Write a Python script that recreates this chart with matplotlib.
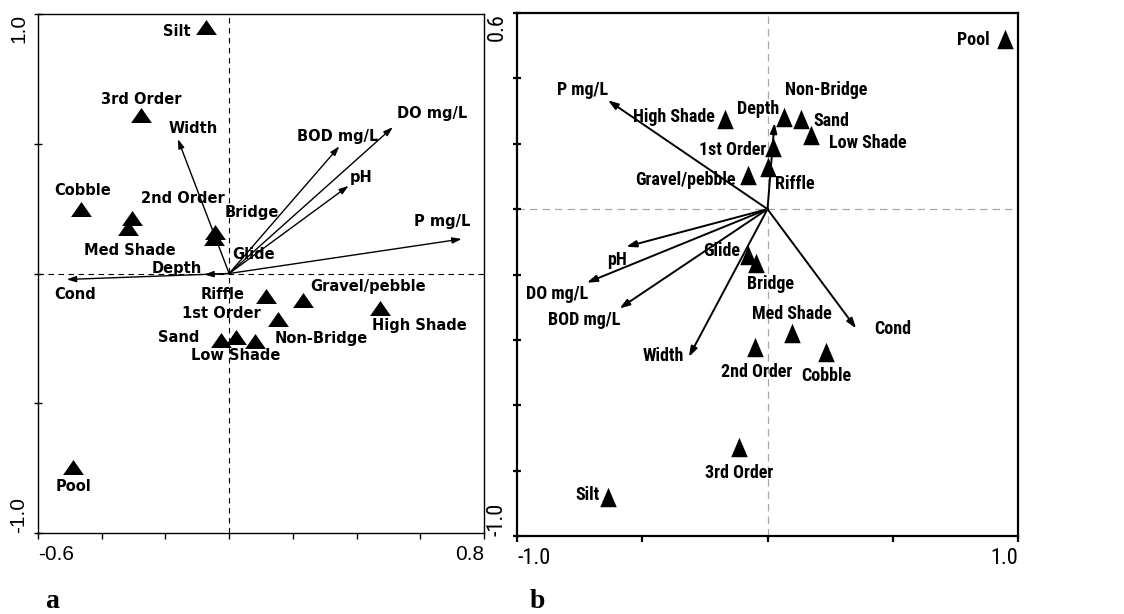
import matplotlib
matplotlib.use("Agg")
import matplotlib.pyplot as plt
from matplotlib import font_manager as fm

# ---------------- data: panel a ----------------
a_site_names = ["Silt", "3rd Order", "Cobble", "2nd Order", "Med Shade", "Bridge", "Glide",
                "Riffle", "Gravel/pebble", "High Shade", "1st Order", "Sand", "Low Shade",
                "Non-Bridge", "Pool"]
a_site_x = [-0.072, -0.277, -0.465, -0.305, -0.318, -0.043, -0.048,
            0.115, 0.231, 0.474, 0.152, -0.026, 0.022, 0.080, -0.490]
a_site_y = [0.950, 0.610, 0.250, 0.215, 0.177, 0.160, 0.138,
            -0.087, -0.103, -0.132, -0.174, -0.257, -0.244, -0.260, -0.747]
a_var_names = ["Width", "BOD mg/L", "DO mg/L", "pH", "P mg/L", "Depth", "Cond"]
a_var_x = [-0.161, 0.346, 0.514, 0.375, 0.730, -0.078, -0.510]
a_var_y = [0.518, 0.490, 0.564, 0.338, 0.133, -0.004, -0.023]

# ---------------- data: panel b ----------------
b_site_names = ["Pool", "High Shade", "Non-Bridge", "Sand", "Low Shade", "1st Order",
                "Gravel/pebble", "Riffle", "Glide", "Bridge", "Med Shade", "2nd Order",
                "Cobble", "3rd Order", "Silt"]
b_site_x = [0.950, -0.168, 0.065, 0.132, 0.174, 0.021, -0.079, 0.001, -0.079, -0.045,
            0.099, -0.048, 0.232, -0.112, -0.635]
b_site_y = [0.519, 0.277, 0.282, 0.277, 0.226, 0.190, 0.104, 0.129, -0.141, -0.166,
            -0.378, -0.421, -0.436, -0.727, -0.882]
b_var_names = ["P mg/L", "Depth", "pH", "DO mg/L", "BOD mg/L", "Width", "Cond"]
b_var_x = [-0.637, 0.028, -0.564, -0.721, -0.591, -0.314, 0.354]
b_var_y = [0.333, 0.264, -0.115, -0.225, -0.304, -0.452, -0.365]

a_xticks = [-0.6, -0.4, -0.2, 0.0, 0.2, 0.4, 0.6, 0.8]
a_xticklabels = ["-0.6", "", "", "", "", "", "", "0.8"]
a_yticks = [-1.0, -0.5, 0.0, 0.5, 1.0]
a_yticklabels = ["-1.0", "", "", "", "1.0"]
b_xticks = [-1.0, -0.5, 0.0, 0.5, 1.0]
b_xticklabels = ["-1.0", "", "", "", "1.0"]
b_yticks = [-1.0, -0.8, -0.6, -0.4, -0.2, 0.0, 0.2, 0.4, 0.6]
b_yticklabels = ["-1.0", "", "", "", "", "", "", "", "0.6"]

# ---------------- layout: label offsets (pixels) ----------------
a_site_off = {"Silt": (-29, -5), "3rd Order": (0, 16), "Cobble": (2, 18), "2nd Order": (51, 19),
              "Med Shade": (2, -23), "Bridge": (36, 19), "Glide": (40, -17), "Riffle": (-43, 2),
              "Gravel/pebble": (65, 14), "High Shade": (39, -18), "1st Order": (-56, 5),
              "Sand": (-42, 3), "Low Shade": (0, -19), "Non-Bridge": (67, 2), "Pool": (0, -19)}
a_var_off = {"Width": (15, 11), "BOD mg/L": (-2, 10), "DO mg/L": (39, 14), "pH": (13, 8),
             "P mg/L": (-20, 17), "Depth": (-28, 6), "Cond": (8, -15)}
b_site_off = {"Pool": (-32, -1), "High Shade": (-51, 2), "Non-Bridge": (42, 27), "Sand": (31, -2),
              "Low Shade": (57, -8), "1st Order": (-40, -3), "Gravel/pebble": (-62, -5),
              "Riffle": (27, -17), "Glide": (-26, 4), "Bridge": (14, -21), "Med Shade": (0, 19),
              "2nd Order": (1, -25), "Cobble": (1, -24), "3rd Order": (0, -26), "Silt": (-21, 2)}
b_var_off = {"P mg/L": (-25, 10), "Depth": (-16, 14), "pH": (-9, -13), "DO mg/L": (-30, -11),
             "BOD mg/L": (-35, -12), "Width": (-26, 1), "Cond": (37, -1)}

installed = {f.name for f in fm.fontManager.ttflist}
narrow = "Liberation Sans"
b_fs = 11.5
b_tick_fs = 14
for cand in ["Liberation Sans Narrow", "DejaVu Sans Condensed", "Roboto Condensed",
             "Open Sans Condensed"]:
    if cand in installed:
        narrow = cand
        b_fs = 13
        b_tick_fs = 16
        break

fig = plt.figure(figsize=(11.24, 6.14), dpi=100)
axA = fig.add_axes([38 / 1124, 81 / 614, 446 / 1124, 519 / 614])
axB = fig.add_axes([517 / 1124, 78 / 614, 501 / 1124, 523 / 614])

tri_a = [(-1, -0.72), (1, -0.72), (0, 0.72)]
tri_b = [(-0.85, -1), (0.85, -1), (0, 1)]


def setup(ax, xlim, ylim, xt, xtl, yt, ytl, family, fs, lw):
    ax.set_xlim(*xlim)
    ax.set_ylim(*ylim)
    ax.set_xticks(xt)
    ax.set_xticklabels(xtl, family=family, fontsize=fs)
    ax.set_yticks(yt)
    ax.set_yticklabels(ytl, family=family, fontsize=fs, rotation=90)
    xl = ax.get_xticklabels()
    xl[0].set_ha("left")
    xl[-1].set_ha("right")
    yl = ax.get_yticklabels()
    yl[0].set_va("bottom")
    yl[-1].set_va("top")
    ax.tick_params(axis="x", direction="out", length=4, width=lw, pad=5)
    ax.tick_params(axis="y", direction="inout", length=6, width=lw, pad=4)
    for s in ax.spines.values():
        s.set_linewidth(lw)


# ---------- panel a ----------
setup(axA, (-0.6, 0.8), (-1.0, 1.0), a_xticks, a_xticklabels, a_yticks, a_yticklabels,
      "Liberation Sans", 15, 1.0)
axA.axhline(0, color="k", lw=0.8, ls=(0, (5, 4)), zorder=1)
axA.axvline(0, color="k", lw=0.8, ls=(0, (5, 4)), zorder=1)
axA.scatter(a_site_x, a_site_y, marker=tri_a, s=15 ** 2, color="k", zorder=3, linewidths=0)
for n, x, y in zip(a_site_names, a_site_x, a_site_y):
    axA.annotate(n, (x, y), xytext=a_site_off[n], textcoords="offset pixels", ha="center",
                 va="center", fontsize=10.5, fontweight="bold", family="DejaVu Sans")
for n, x, y in zip(a_var_names, a_var_x, a_var_y):
    axA.annotate("", xy=(x, y), xytext=(0, 0),
                 arrowprops=dict(arrowstyle="-|>,head_length=0.55,head_width=0.18", lw=1.0,
                                 color="k", shrinkA=0, shrinkB=0), zorder=2)
    axA.annotate(n, (x, y), xytext=a_var_off[n], textcoords="offset pixels", ha="center",
                 va="center", fontsize=10.5, fontweight="bold", family="DejaVu Sans")

# ---------- panel b ----------
setup(axB, (-1.0, 1.0), (-1.0, 0.6), b_xticks, b_xticklabels, b_yticks, b_yticklabels,
      narrow, b_tick_fs, 1.6)
axB.axhline(0, color="#a8a8a8", lw=0.9, ls=(0, (6, 4)), zorder=1)
axB.axvline(0, color="#a8a8a8", lw=0.9, ls=(0, (6, 4)), zorder=1)
axB.scatter(b_site_x, b_site_y, marker=tri_b, s=14 ** 2, color="k", zorder=3, linewidths=0)
for n, x, y in zip(b_site_names, b_site_x, b_site_y):
    axB.annotate(n, (x, y), xytext=b_site_off[n], textcoords="offset pixels", ha="center",
                 va="center", fontsize=b_fs, fontweight="bold", family=narrow)
for n, x, y in zip(b_var_names, b_var_x, b_var_y):
    axB.annotate("", xy=(x, y), xytext=(0, 0),
                 arrowprops=dict(arrowstyle="-|>,head_length=0.6,head_width=0.2", lw=1.4,
                                 color="k", shrinkA=0, shrinkB=0), zorder=2)
    axB.annotate(n, (x, y), xytext=b_var_off[n], textcoords="offset pixels", ha="center",
                 va="center", fontsize=b_fs, fontweight="bold", family=narrow)

fig.text(52 / 1124, 1 - 602 / 614, "a", family="Liberation Serif", fontweight="bold",
         fontsize=20, ha="center", va="center")
fig.text(537 / 1124, 1 - 602 / 614, "b", family="Liberation Serif", fontweight="bold",
         fontsize=20, ha="center", va="center")

fig.savefig("out.png", dpi=100)
